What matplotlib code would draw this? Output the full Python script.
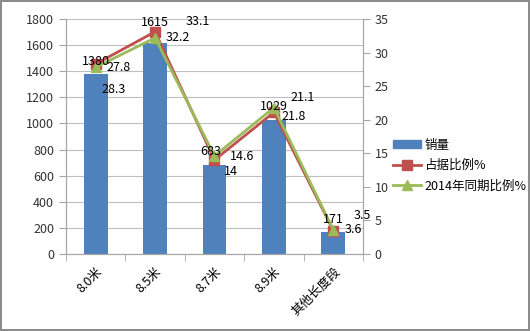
import matplotlib.pyplot as plt
import numpy as np
from matplotlib.patches import Patch
from matplotlib.lines import Line2D

plt.rcParams['font.family'] = ['Noto Sans CJK SC', 'DejaVu Sans']

# 各长度段销量及占比
categorias = ['8.0米', '8.5米', '8.7米', '8.9米', '其他长度段']
vendas = [1380, 1615, 683, 1029, 171]
proporcao = [28.3, 33.1, 14, 21.1, 3.5]
proporcao_2014 = [27.8, 32.2, 14.6, 21.8, 3.6]

azul = '#4F81BD'
vermelho = '#C0504D'
verde = '#9BBB59'
cinza = '#A6A6A6'

fig = plt.figure(figsize=(5.3, 3.31), dpi=100)
fig.patch.set_edgecolor('#8C8C8C')
fig.patch.set_linewidth(1.5)

ax = fig.add_axes([0.1245, 0.2326, 0.5604, 0.71])
ax2 = ax.twinx()

x = np.arange(len(categorias))
ax.bar(x, vendas, width=0.4, color=azul, zorder=2)
ax.set_xlim(-0.5, len(categorias) - 0.5)
ax.set_ylim(0, 1800)
ax.set_yticks(np.arange(0, 1801, 200))
ax.grid(axis='y', color='#BFBFBF', linewidth=0.8, zorder=0)
ax.set_axisbelow(True)

ax2.plot(x, proporcao, color=vermelho, linewidth=2, marker='s', markersize=7, zorder=3)
ax2.plot(x, proporcao_2014, color=verde, linewidth=2, marker='^', markersize=7, zorder=4)
ax2.set_ylim(0, 35)
ax2.set_yticks(np.arange(0, 36, 5))

# Eixo X: rótulos no centro, marcas nas fronteiras
ax.set_xticks(x)
ax.set_xticklabels(categorias, rotation=45, ha='right', rotation_mode='anchor', fontsize=9)
ax.set_xticks(np.arange(-0.5, len(categorias)), minor=True)
ax.tick_params(axis='x', which='major', length=0, pad=8)
ax.tick_params(axis='x', which='minor', length=5, color=cinza, direction='out')
ax.tick_params(axis='y', length=5, color=cinza, labelsize=9, colors='#333333')
ax2.tick_params(axis='y', length=5, color=cinza, labelsize=9, colors='#333333')

for a in (ax, ax2):
    a.spines['top'].set_visible(False)
    for lado in ('left', 'right', 'bottom'):
        a.spines[lado].set_color(cinza)

# Rótulos de valores (todos por cima das linhas)
off_vendas = [(0, 12), (0, 21), (-4, 13), (0, 13), (0, 12)]
off_prop = [(18, -26), (43, 10), (16, -11), (29, 15), (29, 15)]
off_2014 = [(23, 0), (23, 0), (28, -1), (20, -9), (20, 0)]
for i in range(len(categorias)):
    ax2.annotate(str(vendas[i]), (x[i], vendas[i]), xycoords=ax.transData,
                 textcoords='offset pixels', xytext=off_vendas[i],
                 ha='center', va='center', fontsize=9, zorder=6)
    ax2.annotate(f'{proporcao[i]:g}', (x[i], proporcao[i]), textcoords='offset pixels',
                 xytext=off_prop[i], ha='center', va='center', fontsize=9, zorder=6)
    ax2.annotate(f'{proporcao_2014[i]:g}', (x[i], proporcao_2014[i]), textcoords='offset pixels',
                 xytext=off_2014[i], ha='center', va='center', fontsize=9, zorder=6)

handles = [
    Patch(color=azul, label='销量'),
    Line2D([], [], color=vermelho, linewidth=2, marker='s', markersize=7, label='占据比例%'),
    Line2D([], [], color=verde, linewidth=2, marker='^', markersize=7, label='2014年同期比例%'),
]
fig.legend(handles=handles, loc='upper left', bbox_to_anchor=(0.73, 0.6), frameon=False,
           fontsize=9, handlelength=2.2, handleheight=0.6, labelspacing=0.6,
           handletextpad=0.3, borderpad=0)

fig.savefig('out.png', dpi=100)
